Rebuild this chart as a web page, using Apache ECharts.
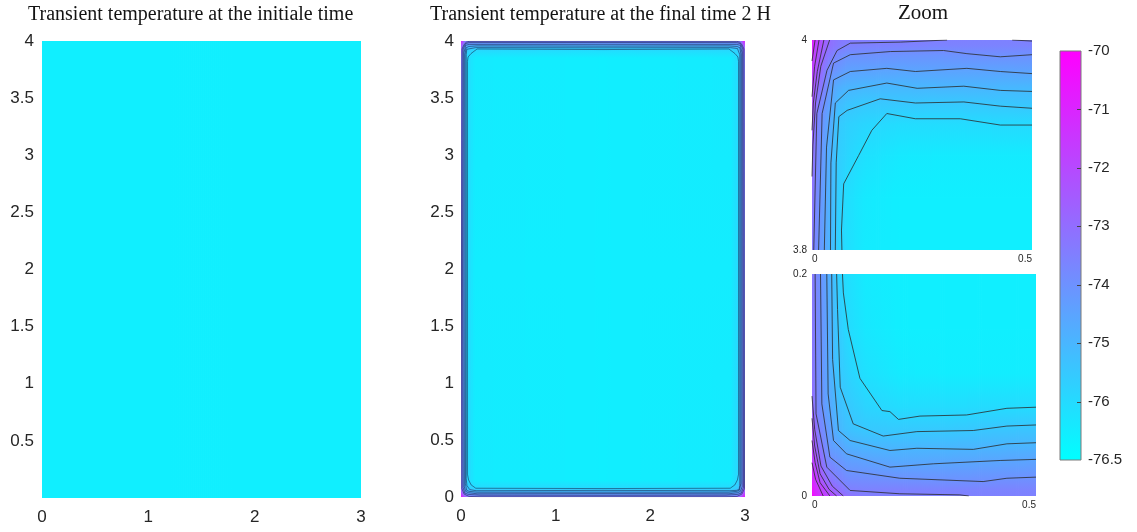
<!DOCTYPE html>
<html><head><meta charset="utf-8">
<script src="https://cdn.jsdelivr.net/npm/echarts@6/dist/echarts.min.js"></script>
<style>html,body{margin:0;padding:0;background:#fff}#c{width:1137px;height:532px}</style>
</head><body><div id="c"></div>
<script>
// ---------- data ----------
const leftXs = [0, 3];
const leftYs = [0, 4];
const leftT = [[-76.55, -76.55], [-76.55, -76.55]];

const midXs = [0, 0.02, 0.045, 0.07, 0.15, 1.5, 2.85, 2.93, 2.955, 2.98, 3];
const midYs = [0, 0.015, 0.045, 0.08, 0.15, 2, 3.85, 3.92, 3.955, 3.985, 4];
const midT = [
  [-70, -71.5, -72.2, -72.9, -73.45, -73.5, -73.45, -72.9, -72.2, -71.5, -70],
  [-70.9, -72.1, -73.2, -73.7, -73.9, -73.95, -73.9, -73.7, -73.2, -72.1, -70.9],
  [-71.9, -73.1, -74.4, -74.8, -75.0, -75.0, -75.0, -74.8, -74.4, -73.1, -71.9],
  [-72.8, -73.6, -74.8, -75.5, -76.0, -76.0, -76.0, -75.5, -74.8, -73.6, -72.8],
  [-73.15, -73.85, -75.0, -75.9, -76.45, -76.55, -76.45, -75.9, -75.0, -73.85, -73.15],
  [-73.2, -73.95, -75.1, -76.0, -76.5, -76.55, -76.5, -76.0, -75.1, -73.95, -73.2],
  [-73.0, -73.9, -75.05, -76.0, -76.45, -76.55, -76.45, -76.0, -75.05, -73.9, -73.0],
  [-72.4, -73.75, -74.9, -75.65, -75.95, -76.05, -75.95, -75.65, -74.9, -73.75, -72.4],
  [-71.85, -73.4, -74.45, -74.85, -75.05, -75.0, -75.05, -74.85, -74.45, -73.4, -71.85],
  [-71.1, -72.4, -73.5, -73.8, -74.0, -74.0, -74.0, -73.8, -73.5, -72.4, -71.1],
  [-70, -72.2, -73.15, -73.4, -73.45, -73.5, -73.45, -73.4, -73.15, -72.2, -70]
];
const midLines = [
  [[0.068,2],[0.068,3.82],[0.075,3.86],[0.106,3.89],[0.17,3.93],[1.5,3.925],[2.83,3.93],[2.894,3.89],[2.925,3.86],[2.932,3.82],[2.932,0.2],[2.92,0.15],[2.893,0.106],[2.844,0.077],[1.5,0.074],[0.156,0.077],[0.107,0.106],[0.08,0.15],[0.068,0.2],[0.068,2]],
  [[0.055,2],[0.055,3.88],[0.061,3.927],[0.08,3.934],[0.155,3.942],[1.5,3.94],[2.845,3.942],[2.92,3.934],[2.939,3.927],[2.945,3.88],[2.945,0.1],[2.937,0.065],[2.908,0.058],[2.84,0.055],[1.5,0.058],[0.16,0.055],[0.092,0.065],[0.063,0.1],[0.055,0.16],[0.055,2]],
  [[0.043,2],[0.043,3.88],[0.053,3.94],[0.083,3.952],[0.17,3.957],[1.5,3.955],[2.83,3.957],[2.917,3.952],[2.947,3.94],[2.957,3.88],[2.957,0.12],[2.941,0.059],[2.915,0.05],[2.83,0.042],[1.5,0.042],[0.17,0.042],[0.085,0.05],[0.059,0.059],[0.046,0.12],[0.043,2]],
  [[0.03,2],[0.033,3.9],[0.049,3.962],[0.087,3.97],[1.5,3.971],[2.913,3.97],[2.951,3.962],[2.967,3.9],[2.97,0.09],[2.952,0.05],[2.923,0.038],[2.83,0.028],[1.5,0.03],[0.17,0.028],[0.077,0.038],[0.048,0.05],[0.035,0.09],[0.03,2]],
  [[0.016,2],[0.023,3.93],[0.049,3.978],[0.087,3.986],[1.5,3.987],[2.913,3.986],[2.951,3.978],[2.977,3.93],[2.984,0.083],[2.96,0.035],[2.923,0.023],[2.8,0.016],[1.5,0.015],[0.2,0.016],[0.077,0.023],[0.04,0.035],[0.022,0.083],[0.016,2]],
  [[0.005,2],[0.011,3.93],[0.034,3.971],[0.057,3.99],[0.087,3.997],[1.5,3.998],[2.913,3.997],[2.943,3.99],[2.966,3.971],[2.989,3.93],[2.995,0.074],[2.967,0.026],[2.915,0.005],[2.8,0.002],[1.5,0.002],[0.2,0.002],[0.085,0.005],[0.033,0.026],[0.009,0.074],[0.005,2]]
];

const zoomXs = [0, 0.005, 0.015, 0.03, 0.045, 0.06, 0.08, 0.12, 0.2, 0.3, 0.4, 0.5];
const topYs = [4.0, 3.995, 3.985, 3.97, 3.955, 3.94, 3.92, 3.89, 3.85, 3.8];
const topT = [
  [-70, -71.3, -71.9, -72.6, -73.1, -73.3, -73.4, -73.45, -73.45, -73.5, -73.55, -73.5],
  [-70.4, -71.5, -72.0, -72.7, -73.15, -73.35, -73.5, -73.55, -73.55, -73.6, -73.6, -73.6],
  [-71.1, -71.7, -72.25, -73.05, -73.5, -73.75, -74.0, -74.0, -74.05, -74.05, -73.98, -74.0],
  [-71.65, -72.0, -72.6, -73.4, -74.0, -74.2, -74.45, -74.5, -74.55, -74.5, -74.5, -74.48],
  [-71.85, -72.35, -73.05, -73.6, -74.45, -74.8, -74.95, -75.05, -75.05, -75.0, -75.0, -75.05],
  [-72.1, -72.6, -73.45, -74.05, -74.55, -75.1, -75.35, -75.5, -75.45, -75.5, -75.45, -75.4],
  [-72.4, -73.0, -73.7, -74.3, -74.85, -75.5, -75.7, -75.85, -76.05, -76.05, -76.0, -75.98],
  [-72.75, -73.25, -73.8, -74.45, -75.0, -75.6, -75.85, -76.15, -76.4, -76.45, -76.45, -76.45],
  [-73.0, -73.45, -73.9, -74.5, -75.05, -75.65, -76.1, -76.4, -76.55, -76.55, -76.55, -76.55],
  [-73.2, -73.55, -74.0, -74.55, -75.1, -75.7, -76.1, -76.45, -76.55, -76.55, -76.55, -76.55]
];
const topLines = [
  [[0.068,3.8],[0.067,3.819],[0.072,3.863],[0.106,3.89],[0.136,3.914],[0.17,3.93],[0.235,3.925],[0.337,3.925],[0.428,3.919],[0.5,3.919]],
  [[0.053,3.8],[0.055,3.883],[0.061,3.927],[0.08,3.933],[0.155,3.944],[0.235,3.94],[0.345,3.941],[0.428,3.937],[0.5,3.935]],
  [[0.042,3.8],[0.043,3.883],[0.053,3.94],[0.083,3.952],[0.17,3.959],[0.239,3.954],[0.345,3.956],[0.428,3.952],[0.5,3.951]],
  [[0.028,3.8],[0.033,3.898],[0.049,3.962],[0.087,3.97],[0.17,3.973],[0.235,3.97],[0.352,3.973],[0.428,3.97],[0.5,3.968]],
  [[0.015,3.8],[0.023,3.93],[0.049,3.978],[0.087,3.986],[0.178,3.989],[0.299,3.99],[0.352,3.987],[0.428,3.984],[0.5,3.986]],
  [[0.004,3.8],[0.011,3.93],[0.034,3.971],[0.057,3.99],[0.087,3.997],[0.201,3.998],[0.307,4.0]],
  [[0.455,4.0],[0.5,3.999]],
  [[0.04,4.0],[0.02,3.975],[0.008,3.94],[0.002,3.9],[0,3.87]],
  [[0.027,4.0],[0.012,3.97],[0.003,3.94],[0,3.914]],
  [[0.016,4.0],[0.006,3.975],[0,3.946]],
  [[0.007,4.0],[0,3.98]]
];

const botYs = [0.2, 0.15, 0.11, 0.08, 0.06, 0.045, 0.03, 0.015, 0.005, 0.0];
const botT = [
  [-73.2, -73.45, -73.85, -74.4, -75.05, -75.7, -76.1, -76.45, -76.55, -76.55, -76.55, -76.55],
  [-73.15, -73.4, -73.8, -74.35, -75.0, -75.55, -76.0, -76.35, -76.55, -76.55, -76.55, -76.55],
  [-73.1, -73.35, -73.8, -74.35, -74.95, -75.45, -75.75, -76.15, -76.45, -76.5, -76.5, -76.5],
  [-72.8, -73.2, -73.75, -74.3, -74.75, -75.2, -75.5, -75.8, -76.05, -76.05, -76.0, -76.0],
  [-72.25, -72.5, -73.5, -74.0, -74.5, -75.0, -75.3, -75.5, -75.55, -75.55, -75.45, -75.4],
  [-71.9, -72.4, -73.1, -73.8, -74.4, -74.5, -74.8, -75.0, -75.05, -75.05, -75.0, -74.95],
  [-71.5, -71.85, -72.6, -73.5, -73.85, -74.05, -74.3, -74.4, -74.6, -74.55, -74.5, -74.45],
  [-70.9, -71.3, -71.95, -72.85, -73.3, -73.55, -73.85, -73.9, -74.0, -74.05, -74.0, -73.95],
  [-70.3, -70.9, -71.4, -72.0, -72.6, -73.0, -73.45, -73.55, -73.55, -73.6, -73.6, -73.6],
  [-70, -70.6, -71.2, -71.65, -72.1, -72.6, -73.1, -73.45, -73.5, -73.5, -73.55, -73.55]
];
const botLines = [
  [[0.068,0.2],[0.07,0.183],[0.081,0.15],[0.107,0.106],[0.156,0.077],[0.174,0.076],[0.193,0.069],[0.241,0.072],[0.345,0.073],[0.435,0.079],[0.5,0.08]],
  [[0.055,0.2],[0.057,0.168],[0.063,0.098],[0.092,0.065],[0.159,0.054],[0.234,0.058],[0.36,0.059],[0.435,0.063],[0.5,0.064]],
  [[0.044,0.2],[0.046,0.123],[0.059,0.059],[0.085,0.05],[0.174,0.041],[0.234,0.043],[0.36,0.042],[0.435,0.047],[0.5,0.048]],
  [[0.033,0.2],[0.036,0.092],[0.048,0.05],[0.077,0.038],[0.174,0.026],[0.271,0.029],[0.42,0.032],[0.5,0.033]],
  [[0.019,0.2],[0.022,0.083],[0.04,0.035],[0.077,0.023],[0.196,0.016],[0.382,0.013],[0.435,0.016],[0.5,0.017]],
  [[0.007,0.2],[0.009,0.074],[0.033,0.026],[0.085,0.005],[0.196,0.002],[0.33,0.001],[0.35,0]],
  [[0,0.09],[0.006,0.06],[0.02,0.027],[0.045,0.009],[0.07,0]],
  [[0,0.07],[0.006,0.045],[0.018,0.02],[0.038,0.006],[0.055,0]],
  [[0,0.05],[0.007,0.03],[0.018,0.012],[0.04,0]],
  [[0,0.03],[0.008,0.015],[0.025,0]]
];

const leftYLabels = ['', '0.5', '1', '1.5', '2', '2.5', '3', '3.5', '4'];
const midYLabels = ['0', '0.5', '1', '1.5', '2', '2.5', '3', '3.5', '4'];
const xLabels = ['0', '1', '2', '3'];
const zoomXLabels = ['0', '0.5'];
const topYLabels = ['3.8', '4'];
const botYLabels = ['0', '0.2'];
const cbRange = [-77, -70];
const cbTicks = [-76, -75, -74, -73, -72, -71];
const cbLabels = ['-76.5', '-76', '-75', '-74', '-73', '-72', '-71', '-70'];
const titles = ['Transient temperature at the initiale time', 'Transient temperature at the final time 2 H', 'Zoom'];

// ---------- rendering ----------
function cool(v) {
  let t = (v - cbRange[0]) / (cbRange[1] - cbRange[0]);
  t = Math.max(0, Math.min(1, t));
  return 'rgb(' + Math.round(255 * t) + ',' + Math.round(255 * (1 - t)) + ',255)';
}
function fieldRender(params, api) {
  const x0 = api.value(0), x1 = api.value(1), y0 = api.value(2), y1 = api.value(3);
  const a = api.value(4), b = api.value(5), c = api.value(6), d = api.value(7);
  const p0 = api.coord([x0, y0]), p1 = api.coord([x1, y1]);
  const L = Math.min(p0[0], p1[0]), R = Math.max(p0[0], p1[0]);
  const T = Math.min(p0[1], p1[1]), B = Math.max(p0[1], p1[1]);
  const w = R - L;
  const n = Math.max(1, Math.ceil(w / 2));
  const flip = p0[0] > p1[0];
  const children = [];
  for (let k = 0; k < n; k++) {
    const fm = (k + 0.5) / n;
    const f = flip ? 1 - fm : fm;
    const v0 = a + (b - a) * f;
    const v1 = c + (d - c) * f;
    children.push({
      type: 'rect',
      shape: { x: L + w * k / n - 0.4, y: T - 0.4, width: w / n + 0.8, height: B - T + 0.8 },
      style: { fill: new echarts.graphic.LinearGradient(0, p0[1], 0, p1[1], [
        { offset: 0, color: cool(v0) }, { offset: 1, color: cool(v1) }], true), stroke: null }
    });
  }
  return { type: 'group', children };
}
function fieldSeries(xi, xs, ys, T) {
  const data = [];
  for (let j = 0; j < ys.length - 1; j++)
    for (let i = 0; i < xs.length - 1; i++)
      data.push([xs[i], xs[i + 1], ys[j], ys[j + 1], T[j][i], T[j][i + 1], T[j + 1][i], T[j + 1][i + 1]]);
  return { type: 'custom', xAxisIndex: xi, yAxisIndex: xi, data, renderItem: fieldRender,
    encode: { x: [0, 1], y: [2, 3] }, clip: true, silent: true, z: 1 };
}
function lineSeries(xi, lines, color, width) {
  return lines.map(pts => ({ type: 'line', xAxisIndex: xi, yAxisIndex: xi, data: pts,
    symbol: 'none', showSymbol: false, silent: true, clip: true, z: 3,
    lineStyle: { color, width } }));
}
const lblColor = '#262626';
const sans = 'Liberation Sans';
function xAx(gi, min, max, interval, labels, fs, margin, align) {
  return { gridIndex: gi, type: 'value', min, max, interval,
    axisLine: { show: false }, axisTick: { show: false }, splitLine: { show: false },
    axisLabel: { fontFamily: sans, fontSize: fs, color: lblColor, margin,
      formatter: (v, i) => labels[i] ?? '', alignMinLabel: align ? 'left' : undefined, alignMaxLabel: align ? 'right' : undefined } };
}
function yAx(gi, min, max, interval, labels, fs, margin) {
  return { gridIndex: gi, type: 'value', min, max, interval,
    axisLine: { show: false }, axisTick: { show: false }, splitLine: { show: false },
    axisLabel: { fontFamily: sans, fontSize: fs, color: lblColor, margin,
      formatter: (v, i) => labels[i] ?? '' } };
}
const titleStyle = { fontFamily: 'Liberation Serif', fontWeight: 'normal', color: '#141414', fontSize: 20 };

const chart = echarts.init(document.getElementById('c'), null, { renderer: 'canvas' });
chart.setOption({
  animation: false,
  backgroundColor: '#fff',
  title: [
    { text: titles[0], left: 28, top: 5, padding: 0, textStyle: titleStyle },
    { text: titles[1], left: 430, top: 5, padding: 0, textStyle: titleStyle },
    { text: titles[2], left: 898, top: 3, padding: 0, textStyle: Object.assign({}, titleStyle, { fontSize: 21 }) }
  ],
  grid: [
    { left: 42, top: 41, width: 319, height: 457 },
    { left: 461, top: 41, width: 284, height: 456 },
    { left: 812, top: 40, width: 220, height: 210 },
    { left: 812, top: 274, width: 224, height: 222 },
    { left: 1060, top: 51, width: 21, height: 409 }
  ],
  xAxis: [
    xAx(0, 0, 3, 1, xLabels, 17, 11),
    xAx(1, 0, 3, 1, xLabels, 17, 11),
    xAx(2, 0, 0.5, 0.5, zoomXLabels, 10, 4, true),
    xAx(3, 0, 0.5, 0.5, zoomXLabels, 10, 4, true),
    { gridIndex: 4, type: 'value', min: 0, max: 1, show: false }
  ],
  yAxis: [
    yAx(0, 0, 4, 0.5, leftYLabels, 17, 8),
    yAx(1, 0, 4, 0.5, midYLabels, 17, 7),
    yAx(2, 3.8, 4, 0.2, topYLabels, 10, 5),
    yAx(3, 0, 0.2, 0.2, botYLabels, 10, 5),
    { gridIndex: 4, type: 'value', position: 'right', min: cbRange[0], max: cbRange[1], interval: 1,
      axisLine: { show: false }, splitLine: { show: false }, axisTick: { show: false },
      axisLabel: { fontFamily: sans, fontSize: 15, color: lblColor, margin: 7,
        formatter: (v, i) => cbLabels[i] ?? '' } }
  ],
  series: [
    fieldSeries(0, leftXs, leftYs, leftT),
    fieldSeries(1, midXs, midYs, midT),
    ...lineSeries(1, midLines, 'rgba(20,20,60,0.85)', 0.6),
    fieldSeries(2, zoomXs, topYs, topT),
    ...lineSeries(2, topLines, '#2a2a2a', 0.8),
    fieldSeries(3, zoomXs, botYs, botT),
    ...lineSeries(3, botLines, '#2a2a2a', 0.8),
    { type: 'custom', xAxisIndex: 4, yAxisIndex: 4, data: [[0, 1, cbRange[0], cbRange[1]]],
      encode: { x: [0, 1], y: [2, 3] }, silent: true, z: 1, clip: false,
      renderItem: (params, api) => {
        const p0 = api.coord([api.value(0), api.value(3)]);
        const p1 = api.coord([api.value(1), api.value(2)]);
        const children = [{ type: 'rect', shape: { x: p0[0], y: p0[1], width: p1[0] - p0[0], height: p1[1] - p0[1] },
          style: { fill: new echarts.graphic.LinearGradient(0, 0, 0, 1, [
            { offset: 0, color: cool(api.value(3)) }, { offset: 1, color: cool(api.value(2)) }]),
            stroke: '#7a7a7a', lineWidth: 1 } }];
        cbTicks.forEach(v => {
          const q = api.coord([api.value(1), v]);
          const y = Math.round(q[1]) + 0.5;
          children.push({ type: 'line', shape: { x1: q[0] - 4, y1: y, x2: q[0], y2: y },
            style: { stroke: '#444', lineWidth: 1, fill: null }, z2: 10 });
        });
        return { type: 'group', children };
      } }
  ]
});
</script></body></html>
